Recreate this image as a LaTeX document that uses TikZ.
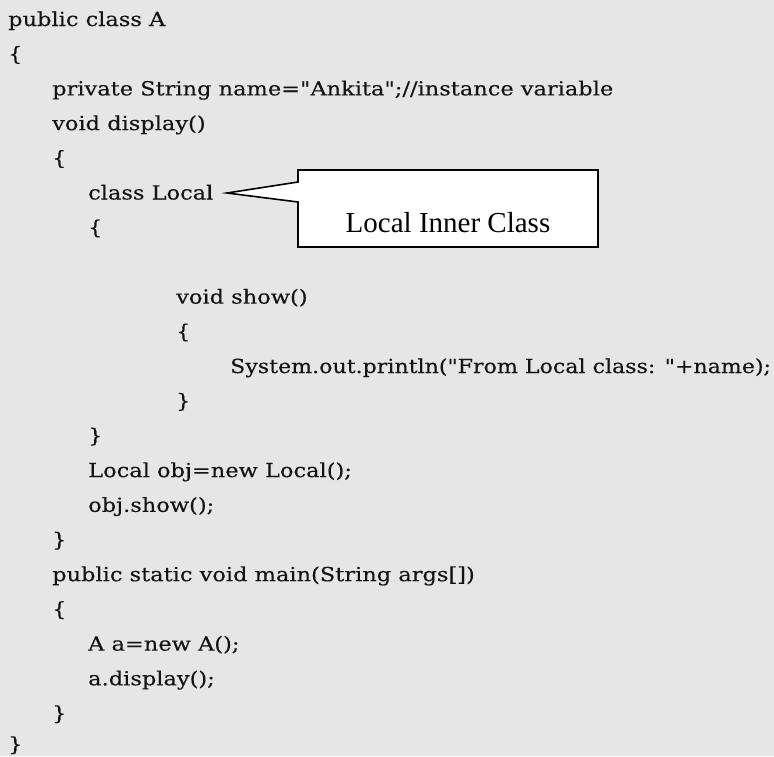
\documentclass[tikz,border=0pt]{standalone}
\usepackage{fontspec}
\setmainfont{DejaVu Serif}[FakeStretch=1.16, FakeBold=0.25, Ligatures=TeXOff]
\newfontfamily\codetight{DejaVu Serif}[FakeStretch=1.14, FakeBold=0.25, Ligatures=TeXOff]
\newfontfamily\calloutfont{Liberation Serif}
\definecolor{pagebg}{HTML}{E6E6E6}
\definecolor{ink}{HTML}{141414}
\begin{document}
\begin{tikzpicture}[x=1pt,y=-1pt,
  code/.style={anchor=base west, inner sep=0pt, text=ink,
    font=\fontsize{19.4}{23}\selectfont},
  longcode/.style={code, font=\codetight\fontsize{19.4}{23}\selectfont},
  callout/.style={fill=white, draw=black, line width=1.6pt, line join=miter},
  calloutlabel/.style={anchor=base, inner sep=0pt, text=black,
    font=\calloutfont\fontsize{29}{34}\selectfont}]
% page background
\fill[pagebg] (0,0) rectangle (774,756);
\useasboundingbox (0,0) rectangle (774,756);

% code listing, one node per line (baseline = 26 + 34.7 * line)
\node[code] (l0)  at (8,  {26+34.7*0})  {public class A};
\node[code] (l1)  at (8,  {26+34.7*1})  {\{};
\node[code] (l2)  at (52, {26+34.7*2})  {private String name="Ankita";//instance variable};
\node[code] (l3)  at (52, {26+34.7*3})  {void display()};
\node[code] (l4)  at (52, {26+34.7*4})  {\{};
\node[code] (l5)  at (88, {26+34.7*5})  {class Local};
\node[code] (l6)  at (88, {26+34.7*6})  {\{};
\node[code] (l8)  at (176,{26+34.7*8})  {void show()};
\node[code] (l9)  at (176,{26+34.7*9})  {\{};
\node[longcode] (l10) at (230,{26+34.7*10}) {System.out.println("From Local class: "+name);};
\node[code] (l11) at (176,{26+34.7*11}) {\}};
\node[code] (l12) at (88, {26+34.7*12}) {\}};
\node[code] (l13) at (88, {26+34.7*13}) {Local obj=new Local();};
\node[code] (l14) at (88, {26+34.7*14}) {obj.show();};
\node[code] (l15) at (52, {26+34.7*15}) {\}};
\node[code] (l16) at (52, {26+34.7*16}) {public static void main(String args[])};
\node[code] (l17) at (52, {26+34.7*17}) {\{};
\node[code] (l18) at (88, {26+34.7*18}) {A a=new A();};
\node[code] (l19) at (88, {26+34.7*19}) {a.display();};
\node[code] (l20) at (52, {26+34.7*20}) {\}};
\node[code] (l21) at (8,  751)          {\}};

% callout box pointing at the local class declaration
\coordinate (tip) at (227,193);
\draw[callout] (298,170) -- (598,170) -- (598,247) -- (298,247)
  -- (298,202) -- (tip) -- (298,182) -- cycle;
\node[calloutlabel] (lbl) at (448,232) {Local Inner Class};
\end{tikzpicture}
\end{document}
